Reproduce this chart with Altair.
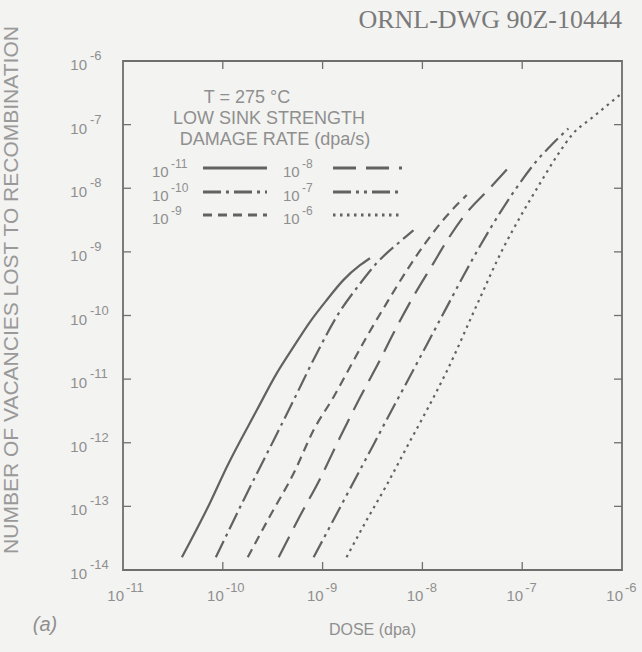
import altair as alt
import pandas as pd

W, H = 499, 509

# ---- data (log10 values) ----
rate_exps = ["-11", "-10", "-9", "-8", "-7", "-6"]

logdose_1e11 = [-10.41, -10.13, -9.96, -9.66, -9.46, -9.29, -9.126, -8.96, -8.79, -8.625, -8.525]
logvac_1e11 = [-13.80, -12.95, -12.38, -11.49, -10.91, -10.49, -10.10, -9.76, -9.44, -9.21, -9.10]

logdose_1e10 = [-10.07, -9.76, -9.49, -9.29, -9.06, -8.86, -8.625, -8.46, -8.225, -8.09]
logvac_1e10 = [-13.80, -12.80, -11.96, -11.33, -10.60, -10.02, -9.50, -9.18, -8.84, -8.66]

logdose_1e9 = [-9.75, -9.53, -9.29, -9.09, -8.89, -8.725, -8.56, -8.36, -8.16, -7.96, -7.76, -7.556]
logvac_1e9 = [-13.80, -13.16, -12.48, -11.80, -11.28, -10.81, -10.34, -9.81, -9.30, -8.84, -8.44, -8.107]

logdose_1e8 = [-9.44, -9.23, -9.03, -8.83, -8.625, -8.425, -8.29, -8.09, -7.89, -7.76, -7.59, -7.32, -7.14]
logvac_1e8 = [-13.80, -13.16, -12.58, -11.93, -11.29, -10.70, -10.28, -9.70, -9.18, -8.84, -8.45, -7.99, -7.68]

logdose_1e7 = [-9.09, -8.89, -8.66, -8.49, -8.325, -8.16, -7.96, -7.76, -7.59, -7.42, -7.22, -7.02, -6.86, -6.70, -6.537]
logvac_1e7 = [-13.80, -13.21, -12.53, -12.03, -11.54, -11.06, -10.47, -9.88, -9.38, -8.90, -8.38, -7.91, -7.58, -7.31, -7.06]

logdose_1e6 = [-8.76, -8.56, -8.36, -8.16, -7.96, -7.76, -7.456, -7.19, -7.02, -6.82, -6.655, -6.49, -6.29, -6.02]
logvac_1e6 = [-13.80, -13.22, -12.67, -12.08, -11.50, -10.89, -9.84, -8.94, -8.45, -7.92, -7.50, -7.14, -6.88, -6.53]

x_tick_exps = [-11, -10, -9, -8, -7, -6]
y_tick_exps = [-14, -13, -12, -11, -10, -9, -8, -7, -6]

# ---- styles ----
LINE = "#626262"
TXT = "#8f8f8f"
FONT = "Liberation Sans"
dashes = [None, [18, 5, 3, 5], [9, 6], [23, 10], [18, 5, 3, 5, 3, 5], [2.5, 4.5]]

xscale = alt.Scale(type="log", domain=[1e-11, 1e-6], nice=False)
yscale = alt.Scale(type="log", domain=[1e-14, 1e-6], nice=False)

series = [
    (logdose_1e11, logvac_1e11),
    (logdose_1e10, logvac_1e10),
    (logdose_1e9, logvac_1e9),
    (logdose_1e8, logvac_1e8),
    (logdose_1e7, logvac_1e7),
    (logdose_1e6, logvac_1e6),
]

layers = []
for (lx, ly), d in zip(series, dashes):
    df = pd.DataFrame({"dose": [10 ** v for v in lx], "vac": [10 ** v for v in ly]})
    kw = dict(color=LINE, strokeWidth=2.2, interpolate="monotone")
    if d is not None:
        kw["strokeDash"] = d
    layers.append(
        alt.Chart(df).mark_line(**kw).encode(
            x=alt.X("dose:Q", scale=xscale, axis=None),
            y=alt.Y("vac:Q", scale=yscale, axis=None),
        )
    )

# inward ticks
xt = pd.DataFrame({"v": [10.0 ** e for e in x_tick_exps[1:-1]]})
yt = pd.DataFrame({"v": [10.0 ** e for e in y_tick_exps[1:-1]]})
TK = "#707070"
for y0, y1 in [(H, H - 8), (0, 8)]:
    layers.append(alt.Chart(xt).mark_rule(color=TK, strokeWidth=1.3).encode(
        x=alt.X("v:Q", scale=xscale, axis=None), y=alt.value(y0), y2=alt.value(y1)))
for x0, x1 in [(0, 8), (W, W - 8)]:
    layers.append(alt.Chart(yt).mark_rule(color=TK, strokeWidth=1.3).encode(
        y=alt.Y("v:Q", scale=yscale, axis=None), x=alt.value(x0), x2=alt.value(x1)))

# tick labels (10 with raised exponent)
xl = pd.DataFrame({"v": [10.0 ** e for e in x_tick_exps], "b": "10", "e": [str(e) for e in x_tick_exps]})
yl = pd.DataFrame({"v": [10.0 ** e for e in y_tick_exps], "b": "10", "e": [str(e) for e in y_tick_exps]})
layers.append(alt.Chart(xl).mark_text(align="right", baseline="middle", fontSize=15, font=FONT, color=TXT, dx=1).encode(
    x=alt.X("v:Q", scale=xscale, axis=None), y=alt.value(H + 26), text="b:N"))
layers.append(alt.Chart(xl).mark_text(align="left", baseline="middle", fontSize=13, font=FONT, color=TXT, dx=3).encode(
    x=alt.X("v:Q", scale=xscale, axis=None), y=alt.value(H + 18), text="e:N"))
layers.append(alt.Chart(yl).mark_text(align="right", baseline="middle", fontSize=15, font=FONT, color=TXT, dy=4).encode(
    y=alt.Y("v:Q", scale=yscale, axis=None), x=alt.value(-36), text="b:N"))
layers.append(alt.Chart(yl).mark_text(align="left", baseline="middle", fontSize=13, font=FONT, color=TXT, dy=-5).encode(
    y=alt.Y("v:Q", scale=yscale, axis=None), x=alt.value(-33), text="e:N"))

one = pd.DataFrame({"k": [0]})


def txt(s, x, y, size=15, align="center", angle=0, font=FONT, color=TXT, style="normal"):
    kw = dict(text=s, align=align, baseline="middle", fontSize=size, font=font, color=color, fontStyle=style)
    if angle:
        kw["angle"] = angle
    return alt.Chart(one).mark_text(**kw).encode(x=alt.value(x), y=alt.value(y))


# titles and annotations
layers.append(txt("NUMBER OF VACANCIES LOST TO RECOMBINATION", -111, 229, size=21, angle=270, color="#999999"))
layers.append(txt("DOSE (dpa)", W / 2, H + 60, size=16))
layers.append(txt("(a)", -78, H + 55, size=20, style="italic"))
layers.append(txt("ORNL-DWG 90Z-10444", W, -41, size=26, align="right", font="Liberation Serif", color="#7a7a7a"))

# legend block
layers.append(txt("T = 275 \u00b0C", 124, 37, size=18))
layers.append(txt("LOW SINK STRENGTH", 146, 58, size=18))
layers.append(txt("DAMAGE RATE (dpa/s)", 152, 79, size=18))

rows = [107, 131, 154]
cols = [(29, 80, 144), (160, 210, 279)]
for i, e in enumerate(rate_exps):
    c = cols[i // 3]
    r = rows[i % 3]
    layers.append(txt("10", c[0], r + 4, size=15, align="left"))
    layers.append(txt(e, c[0] + 19, r - 4, size=12, align="left"))
    kw = dict(color=LINE, strokeWidth=3)
    if dashes[i] is not None:
        kw["strokeDash"] = dashes[i]
    layers.append(alt.Chart(one).mark_rule(**kw).encode(
        x=alt.value(c[1]), x2=alt.value(c[2]), y=alt.value(r)))

chart = alt.layer(*layers).properties(
    width=W, height=H,
    autosize=alt.AutoSizeParams(type="none"),
    padding={"left": 123, "top": 61, "right": 20, "bottom": 82},
    background="#f3f3f1",
).configure_view(stroke="#6e6e6e", strokeWidth=1.8)

chart.save("out.html", embed_options={"renderer": "svg", "actions": False})
